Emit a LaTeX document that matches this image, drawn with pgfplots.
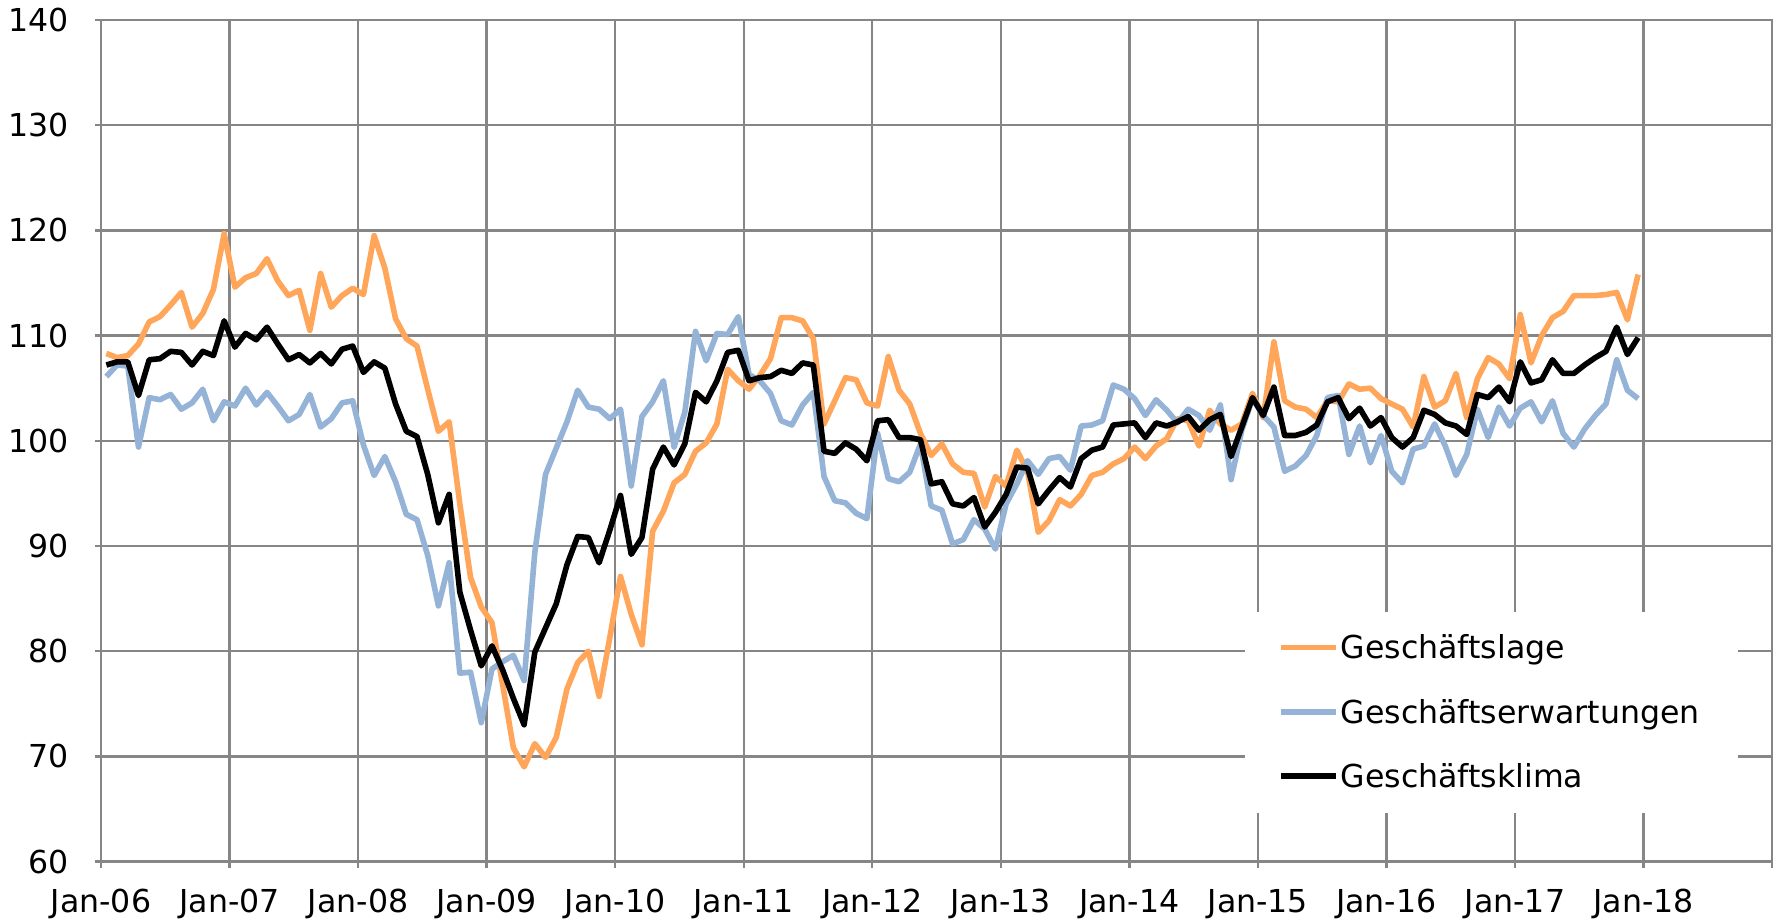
\documentclass[border=0pt]{standalone}
\usepackage{fontspec}
\setmainfont{DejaVu Sans}
\usepackage{pgfplots}
\pgfplotsset{compat=1.18}
\usepackage{pgfplotstable}
\definecolor{cLage}{HTML}{FFA65A}
\definecolor{cErw}{HTML}{95B3D7}
\definecolor{cGrid}{HTML}{868686}

% monthly values Jan-06 ... Dec-17: L = Geschaeftslage, E = Geschaeftserwartungen, K = Geschaeftsklima
\pgfplotstableread{
L E K
108.3 106.1 107.2
107.9 107.2 107.5
108.1 107.1 107.5
109.2 99.4 104.3
111.3 104.1 107.7
111.8 103.9 107.8
112.9 104.4 108.5
114.1 103.0 108.4
110.8 103.6 107.2
112.1 104.9 108.5
114.4 101.9 108.1
119.7 103.7 111.4
114.6 103.3 108.9
115.5 105.0 110.2
115.9 103.4 109.6
117.3 104.6 110.8
115.2 103.3 109.2
113.8 101.9 107.7
114.3 102.5 108.2
110.5 104.4 107.4
115.9 101.3 108.3
112.7 102.1 107.3
113.8 103.6 108.7
114.5 103.8 109.0
113.9 99.6 106.5
119.5 96.7 107.5
116.4 98.5 106.9
111.6 96.1 103.5
109.7 93.0 100.9
109.0 92.5 100.4
104.9 89.1 96.8
100.9 84.3 92.2
101.8 88.4 94.9
94.0 77.9 85.6
87.0 78.0 82.0
84.2 73.2 78.6
82.7 78.3 80.5
76.8 79.0 78.2
70.8 79.6 75.5
69.0 77.2 73.0
71.2 89.4 79.9
69.9 96.8 82.2
71.8 99.3 84.5
76.4 101.8 88.2
78.9 104.8 90.9
80.0 103.2 90.8
75.7 103.0 88.4
81.3 102.1 91.5
87.1 103.0 94.8
83.5 95.7 89.2
80.6 102.3 90.8
91.4 103.7 97.3
93.3 105.7 99.4
96.0 99.4 97.7
96.8 102.7 99.7
99.0 110.4 104.6
99.8 107.6 103.7
101.6 110.2 105.7
106.8 110.1 108.4
105.7 111.8 108.6
104.9 106.3 105.7
106.2 105.7 106.0
107.8 104.5 106.1
111.7 101.9 106.7
111.7 101.5 106.4
111.4 103.4 107.4
109.7 104.6 107.2
101.6 96.6 99.0
103.8 94.3 98.8
106.0 94.1 99.8
105.8 93.1 99.2
103.6 92.6 98.1
103.3 100.7 101.9
108.0 96.4 102.0
104.8 96.1 100.3
103.5 97.0 100.3
100.7 99.7 100.1
98.6 93.8 95.9
99.7 93.4 96.1
97.8 90.2 94.0
97.0 90.6 93.8
96.9 92.5 94.6
93.7 91.6 91.8
96.6 89.7 93.2
95.7 94.0 94.9
99.1 95.9 97.5
97.1 98.1 97.4
91.3 96.8 94.0
92.4 98.3 95.3
94.4 98.5 96.5
93.8 97.2 95.6
94.9 101.4 98.3
96.7 101.5 99.1
97.0 101.9 99.4
97.8 105.3 101.5
98.3 104.9 101.6
99.4 104.0 101.7
98.3 102.4 100.3
99.5 103.9 101.7
100.2 102.9 101.4
102.1 101.7 101.8
101.9 103.0 102.3
99.5 102.4 101.0
102.9 101.0 102.0
101.6 103.4 102.5
101.0 96.3 98.5
101.6 101.0 101.3
104.5 104.0 104.1
102.2 102.4 102.4
109.4 101.3 105.1
103.8 97.1 100.5
103.2 97.6 100.5
103.0 98.6 100.8
102.2 100.5 101.5
103.8 104.1 103.7
103.7 104.3 104.1
105.4 98.7 102.1
104.9 101.4 103.1
105.0 97.9 101.4
104.0 100.5 102.2
103.5 97.1 100.3
103.0 96.0 99.4
101.3 99.2 100.3
106.1 99.5 102.9
103.2 101.6 102.5
103.8 99.5 101.7
106.4 96.7 101.4
102.2 98.7 100.6
105.9 103.0 104.4
107.9 100.3 104.1
107.3 103.2 105.1
105.9 101.4 103.7
112.0 103.1 107.5
107.4 103.7 105.5
110.0 101.8 105.8
111.7 103.8 107.7
112.3 100.7 106.4
113.8 99.4 106.4
113.8 101.1 107.2
113.8 102.4 107.9
113.9 103.5 108.5
114.1 107.7 110.8
111.5 104.8 108.2
115.8 104.0 109.8
}\data

\begin{document}
\begin{tikzpicture}[font=\fontsize{15.8bp}{19bp}\selectfont]
\begin{axis}[
  scale only axis,
  width=835.5bp, height=420.75bp,
  xmin=0, xmax=156, ymin=60, ymax=140,
  xtick={0,12,...,156},
  xticklabels={Jan-06,Jan-07,Jan-08,Jan-09,Jan-10,Jan-11,Jan-12,Jan-13,Jan-14,Jan-15,Jan-16,Jan-17,Jan-18,{}},
  ytick={60,70,...,140},
  grid=major,
  major grid style={cGrid, line width=1.2bp},
  axis line style={cGrid, line width=1.2bp},
  tick style={cGrid, line width=1.2bp},
  tick align=outside,
  major tick length=3bp,
  tick pos=left,
  /pgf/number format/assume math mode=true,
  tick label style={font=\fontsize{15.8bp}{19bp}\selectfont, text=black},
  yticklabel style={anchor=east, inner sep=0pt, text height=11.5bp, text depth=0pt, xshift=-12.8bp},
  xticklabel style={anchor=north, inner sep=0pt, text height=11.5bp, text depth=0pt, yshift=-11bp},
  legend style={at={(rel axis cs:0.7042,0.2709)}, anchor=north west, draw=none, fill=none,
    inner sep=0pt, row sep=16.2bp, column sep=1bp,
    font=\fontsize{15.8bp}{19bp}\selectfont,
    nodes={inner sep=0pt, text height=12.5bp, text depth=3.5bp, anchor=base west}},
  legend cell align=left,
  legend image code/.code={\draw[#1] (0bp,5.8bp) -- (27.5bp,5.8bp);},
]
\addplot[cLage, line width=2.8bp, line join=round] table[x expr=\coordindex+0.5, y=L]{\data};
\addlegendentry{Geschäftslage}
\addplot[cErw, line width=2.8bp, line join=round] table[x expr=\coordindex+0.5, y=E]{\data};
\addlegendentry{Geschäftserwartungen}
\addplot[black, line width=2.8bp, line join=round] table[x expr=\coordindex+0.5, y=K]{\data};
\addlegendentry{Geschäftsklima}
\fill[white] (rel axis cs:0.6846,0.058) rectangle (rel axis cs:0.9797,0.297);
\end{axis}
\path (current axis.south west) ++(-50.5bp,-29.25bp) coordinate (bl);
\path (current axis.north east) ++(3.5bp,10bp) coordinate (tr);
\path (bl) rectangle (tr);
\end{tikzpicture}
\end{document}
